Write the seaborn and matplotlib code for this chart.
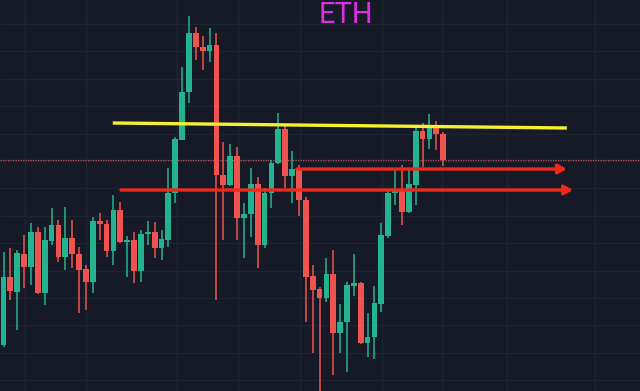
"""
ETH candlestick chart with support / resistance markings (dark theme).
"""

import matplotlib

matplotlib.use("Agg")
import matplotlib.pyplot as plt
import numpy as np
import seaborn as sns

# candle data (arbitrary price units)
opens = [1310, 1446, 1416, 1492, 1466, 1536, 1414, 1518, 1550, 1486,
         1524, 1492, 1462, 1436, 1558, 1552, 1498, 1580, 1516, 1520,
         1458, 1532, 1536, 1504, 1520, 1614, 1720, 1816, 1934, 1906,
         1898, 1910, 1650, 1630, 1688, 1564, 1572, 1632, 1510, 1614,
         1674, 1742, 1648, 1664, 1600, 1448, 1422, 1404, 1452, 1334,
         1356, 1428, 1434, 1314, 1326, 1392, 1528, 1614, 1620, 1576,
         1630, 1738, 1722, 1744, 1732]
highs = [1496, 1504, 1500, 1530, 1554, 1546, 1546, 1584, 1560, 1586,
         1560, 1506, 1470, 1566, 1574, 1560, 1610, 1596, 1528, 1536,
         1540, 1558, 1556, 1540, 1664, 1726, 1866, 1968, 1946, 1928,
         1944, 1934, 1716, 1712, 1706, 1594, 1664, 1646, 1624, 1680,
         1774, 1752, 1698, 1670, 1606, 1470, 1426, 1484, 1500, 1392,
         1436, 1492, 1436, 1374, 1428, 1554, 1620, 1662, 1670, 1660,
         1750, 1754, 1772, 1758, 1736]
lows = [1306, 1400, 1340, 1424, 1430, 1412, 1390, 1510, 1476, 1460,
        1464, 1374, 1380, 1414, 1520, 1486, 1470, 1514, 1446, 1434,
        1436, 1510, 1484, 1480, 1506, 1594, 1720, 1794, 1880, 1860,
        1876, 1400, 1520, 1628, 1520, 1484, 1526, 1464, 1504, 1584,
        1672, 1624, 1594, 1568, 1356, 1294, 1190, 1396, 1250, 1294,
        1256, 1408, 1312, 1286, 1282, 1376, 1524, 1590, 1550, 1574,
        1590, 1666, 1702, 1700, 1668]
closes = [1446, 1418, 1494, 1466, 1536, 1414, 1520, 1550, 1486, 1524,
          1492, 1460, 1436, 1558, 1552, 1498, 1580, 1516, 1520, 1458,
          1532, 1536, 1504, 1522, 1614, 1722, 1816, 1934, 1906, 1898,
          1910, 1650, 1630, 1688, 1564, 1572, 1632, 1510, 1614, 1674,
          1742, 1648, 1662, 1600, 1446, 1420, 1404, 1452, 1334, 1356,
          1430, 1434, 1314, 1326, 1394, 1530, 1614, 1622, 1576, 1632,
          1738, 1722, 1744, 1732, 1680]

# drawn levels
resistance_start = (15.9, 1754)
resistance_end = (82.0, 1744)
last_price = 1681
support_upper = 1662
support_upper_span = (42.7, 82.0)
support_lower = 1620
support_lower_span = (17.1, 82.9)

BG = "#161a27"
GRID = "#1f2433"
UP = "#24b38f"
DOWN = "#ef5350"

sns.set_theme(style="dark", rc={
    "axes.facecolor": BG,
    "figure.facecolor": BG,
    "grid.color": GRID,
})

fig = plt.figure(figsize=(6.4, 3.91), dpi=100)
ax = fig.add_axes([0, 0, 1, 1])

o = np.array(opens, dtype=float)
h = np.array(highs, dtype=float)
l = np.array(lows, dtype=float)
c = np.array(closes, dtype=float)
x = np.arange(len(o))
colors = np.where(c >= o, UP, DOWN)

# wicks then bodies
ax.vlines(x, l, h, colors=colors, linewidth=1.1, zorder=3)
body_lo = np.minimum(o, c)
body_h = np.maximum(np.abs(c - o), 3)
ax.bar(x, body_h, bottom=body_lo, width=0.84, color=colors, linewidth=0, zorder=4)

# resistance line
ax.plot([resistance_start[0], resistance_end[0]],
        [resistance_start[1], resistance_end[1]],
        color="#f4f22e", linewidth=2.4, solid_capstyle="butt", zorder=5)

# current price dotted line
ax.axhline(last_price, color="#b9525a", linewidth=0.9, linestyle=(0, (1, 1)), zorder=2)

# support arrows
for level, (x0, x1) in [(support_upper, support_upper_span),
                        (support_lower, support_lower_span)]:
    ax.annotate("", xy=(x1, level), xytext=(x0, level),
                arrowprops=dict(arrowstyle="-|>,head_length=0.5,head_width=0.28",
                                color="#f0291c", lw=2.4, shrinkA=0, shrinkB=0,
                                mutation_scale=10),
                zorder=5)

# grid
ax.set_xticks([3.1, 12.0, 25.3, 34.1, 43.2, 55.1, 63.8, 73.3, 86.1])
ax.set_yticks(1952 - 54.8 * np.arange(14))
ax.grid(True, color=GRID, linewidth=1.0)
ax.tick_params(length=0, labelbottom=False, labelleft=False)
for s in ax.spines.values():
    s.set_visible(False)

ax.set_xlim(-0.51, 92.65)
ax.set_ylim(1218, 2000)

fig.text(345.5 / 640, 1 - 23 / 391, "ETH", color="#dd2fe0", fontsize=21,
         family=["Roboto", "DejaVu Sans"], ha="center", va="baseline")

fig.savefig("out.png", dpi=100, facecolor=BG)
